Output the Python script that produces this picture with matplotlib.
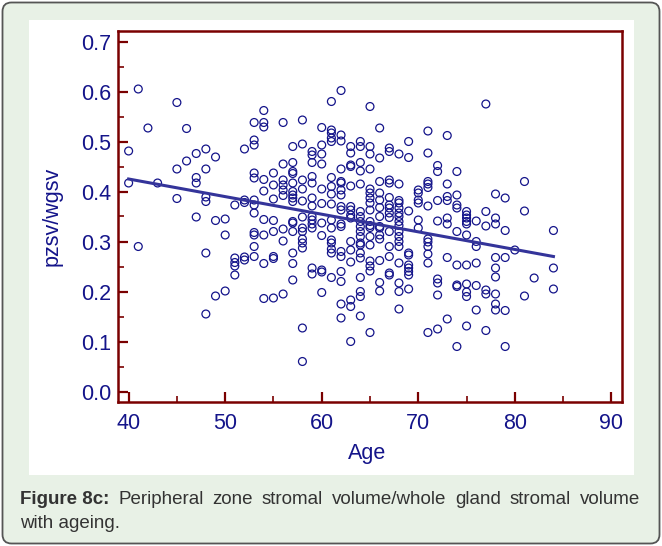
import numpy as np
import matplotlib
matplotlib.use("Agg")
import matplotlib.pyplot as plt
from matplotlib.patches import FancyBboxPatch, Rectangle
from matplotlib.ticker import MultipleLocator

plt.rcParams['font.family'] = ['Liberation Sans', 'DejaVu Sans']

# age (years) and pzsv/wgsv ratio, one line per age
ages = (
    [40] * 2 + [41] * 2 + [42] + [43] + [45] * 3 + [46] * 2 + [47] * 4 + [48] * 6 +
    [49] * 3 + [50] * 3 + [51] * 5 + [52] * 5 + [53] * 12 + [54] * 9 + [55] * 8 +
    [56] * 9 + [57] * 15 + [58] * 13 + [59] * 13 + [60] * 11 + [61] * 16 + [62] * 18 +
    [63] * 15 + [64] * 19 + [65] * 18 + [66] * 14 + [67] * 14 + [68] * 17 + [69] * 10 +
    [70] * 6 + [71] * 12 + [72] * 8 + [73] * 8 + [74] * 9 + [75] * 11 + [76] * 6 +
    [77] * 6 + [78] * 9 + [79] * 5 + [80] + [81] * 3 + [82] + [84] * 3
)
ratio = [
    0.481, 0.417,
    0.605, 0.290,
    0.527,
    0.417,
    0.578, 0.445, 0.386,
    0.526, 0.461,
    0.476, 0.428, 0.417, 0.349,
    0.485, 0.445, 0.389, 0.380, 0.277, 0.155,
    0.469, 0.342, 0.191,
    0.345, 0.313, 0.201,
    0.373, 0.267, 0.258, 0.251, 0.233,
    0.485, 0.383, 0.378, 0.269, 0.263,
    0.538, 0.503, 0.493, 0.437, 0.427, 0.383, 0.373, 0.357, 0.318, 0.313, 0.290, 0.270,
    0.562, 0.538, 0.529, 0.424, 0.401, 0.344, 0.313, 0.256, 0.186,
    0.437, 0.413, 0.385, 0.342, 0.320, 0.270, 0.266, 0.187,
    0.538, 0.455, 0.423, 0.413, 0.403, 0.392, 0.325, 0.301, 0.195,
    0.490, 0.458, 0.440, 0.436, 0.417, 0.400, 0.393, 0.387, 0.380, 0.340, 0.337, 0.320, 0.277, 0.256, 0.223,
    0.543, 0.495, 0.423, 0.405, 0.381, 0.349, 0.327, 0.320, 0.305, 0.297, 0.287, 0.127, 0.060,
    0.480, 0.473, 0.458, 0.430, 0.417, 0.387, 0.371, 0.350, 0.343, 0.335, 0.327, 0.247, 0.235,
    0.528, 0.493, 0.475, 0.455, 0.405, 0.376, 0.337, 0.312, 0.243, 0.239, 0.198,
    0.580, 0.523, 0.517, 0.507, 0.500, 0.428, 0.410, 0.395, 0.375, 0.343, 0.327, 0.303, 0.297, 0.285, 0.277, 0.228,
    0.602, 0.513, 0.501, 0.445, 0.420, 0.417, 0.403, 0.393, 0.370, 0.363, 0.335, 0.330, 0.280, 0.270, 0.240, 0.220, 0.175, 0.147,
    0.490, 0.477, 0.453, 0.450, 0.411, 0.370, 0.363, 0.353, 0.347, 0.300, 0.283, 0.259, 0.183, 0.170, 0.100,
    0.500, 0.490, 0.458, 0.441, 0.415, 0.360, 0.350, 0.340, 0.330, 0.320, 0.310, 0.297, 0.293, 0.277, 0.267, 0.228, 0.200, 0.190, 0.151,
    0.570, 0.490, 0.475, 0.445, 0.405, 0.397, 0.387, 0.377, 0.363, 0.340, 0.332, 0.328, 0.310, 0.293, 0.261, 0.251, 0.241, 0.118,
    0.527, 0.467, 0.420, 0.397, 0.383, 0.368, 0.350, 0.330, 0.327, 0.313, 0.305, 0.262, 0.218, 0.201,
    0.487, 0.480, 0.423, 0.417, 0.388, 0.373, 0.367, 0.357, 0.348, 0.320, 0.290, 0.270, 0.237, 0.233,
    0.475, 0.415, 0.382, 0.377, 0.367, 0.357, 0.350, 0.340, 0.332, 0.320, 0.310, 0.300, 0.290, 0.257, 0.217, 0.200, 0.165,
    0.500, 0.468, 0.361, 0.277, 0.273, 0.253, 0.247, 0.240, 0.233, 0.205,
    0.403, 0.397, 0.383, 0.377, 0.343, 0.327,
    0.521, 0.477, 0.420, 0.415, 0.408, 0.371, 0.305, 0.299, 0.290, 0.275, 0.257, 0.118,
    0.452, 0.440, 0.382, 0.341, 0.225, 0.217, 0.193, 0.125,
    0.512, 0.415, 0.390, 0.382, 0.347, 0.335, 0.268, 0.145,
    0.440, 0.393, 0.373, 0.367, 0.320, 0.253, 0.213, 0.210, 0.090,
    0.360, 0.353, 0.347, 0.340, 0.335, 0.313, 0.253, 0.215, 0.199, 0.190, 0.131,
    0.341, 0.300, 0.290, 0.257, 0.212, 0.163,
    0.575, 0.360, 0.331, 0.203, 0.195, 0.122,
    0.395, 0.347, 0.335, 0.268, 0.247, 0.229, 0.195, 0.175, 0.163,
    0.387, 0.322, 0.268, 0.162, 0.090,
    0.283,
    0.420, 0.361, 0.191,
    0.227,
    0.322, 0.247, 0.205,
]

# regression line end points
fit_age = [40, 84]
fit_ratio = [0.425, 0.270]

x_ticks = [40, 50, 60, 70, 80, 90]
y_ticks = [0.0, 0.1, 0.2, 0.3, 0.4, 0.5, 0.6, 0.7]

caption_bold = "Figure 8c:"
caption_line1 = "Peripheral zone stromal volume/whole gland stromal volume"
caption_line2 = "with ageing."

NAVY = '#14148a'
MAROON = '#7a0000'
W, H = 662, 546

fig = plt.figure(figsize=(W / 100, H / 100), dpi=100)
fig.patch.set_facecolor('white')

# outer green card with rounded border
card = FancyBboxPatch((2.5 / 100, 2.5 / 100), (W - 5) / 100, (H - 5) / 100,
                      boxstyle="round,pad=0,rounding_size=0.09",
                      transform=fig.dpi_scale_trans, facecolor='#e8f1e6',
                      edgecolor='#555555', linewidth=1.3, zorder=0)
fig.patches.append(card)
panel = Rectangle((29 / W, 1 - 475 / H), (634 - 29) / W, (475 - 20) / H,
                  transform=fig.transFigure, facecolor='white', edgecolor='none', zorder=1)
fig.patches.append(panel)

ax = fig.add_axes([118 / W, 1 - 402 / H, (622 - 118) / W, (402 - 31) / H])
ax.set_zorder(2)
ax.scatter(ages, ratio, s=32, facecolors='none', edgecolors=NAVY, linewidths=0.9, zorder=3)
ax.plot(fit_age, fit_ratio, color='#34349a', linewidth=2.2, zorder=4)

ax.set_xlim(38.9, 91.1)
ax.set_ylim(-0.021, 0.721)
ax.set_xticks(x_ticks)
ax.set_yticks(y_ticks)
ax.set_xticklabels([str(v) for v in x_ticks])
ax.set_yticklabels([f"{v:.1f}" for v in y_ticks])
ax.xaxis.set_minor_locator(MultipleLocator(5))
ax.yaxis.set_minor_locator(MultipleLocator(0.05))
ax.tick_params(which='both', direction='in', color=MAROON, top=False, right=False)
ax.tick_params(which='major', length=7.5, width=1.6)
ax.tick_params(which='minor', length=4, width=1.2)
ax.tick_params(axis='x', which='major', labelsize=15.5, labelcolor=NAVY, pad=8)
ax.tick_params(axis='y', which='major', labelsize=15.5, labelcolor=NAVY, pad=5)
for sp in ax.spines.values():
    sp.set_color(MAROON)
    sp.set_linewidth(1.8)

fig.text(367 / W, 1 - 454 / H, "Age", color=NAVY, fontsize=15.5, ha='center', va='center')
fig.text(52 / W, 1 - 216 / H, "pzsv/wgsv", color=NAVY, fontsize=15.5,
         ha='center', va='center', rotation=90)

# caption, first line justified between x=20 and x=640 px
cap_color = '#333333'
cap_size = 13.5
y1 = 1 - 499 / H
y2 = 1 - 523 / H
words = [(caption_bold, 'bold')] + [(w, 'normal') for w in caption_line1.split()]
texts = [fig.text(0, y1, w, fontsize=cap_size, fontweight=fw, color=cap_color,
                  va='center', ha='left') for w, fw in words]
renderer = fig.canvas.get_renderer()
widths = [t.get_window_extent(renderer).width for t in texts]
gap = (620 - sum(widths)) / (len(texts) - 1)
x = 20.0
for t, wd in zip(texts, widths):
    t.set_x(x / W)
    x += wd + gap
fig.text(20 / W, y2, caption_line2, fontsize=cap_size, color=cap_color, va='center', ha='left')

fig.savefig('out.png', dpi=100, facecolor=fig.get_facecolor())
